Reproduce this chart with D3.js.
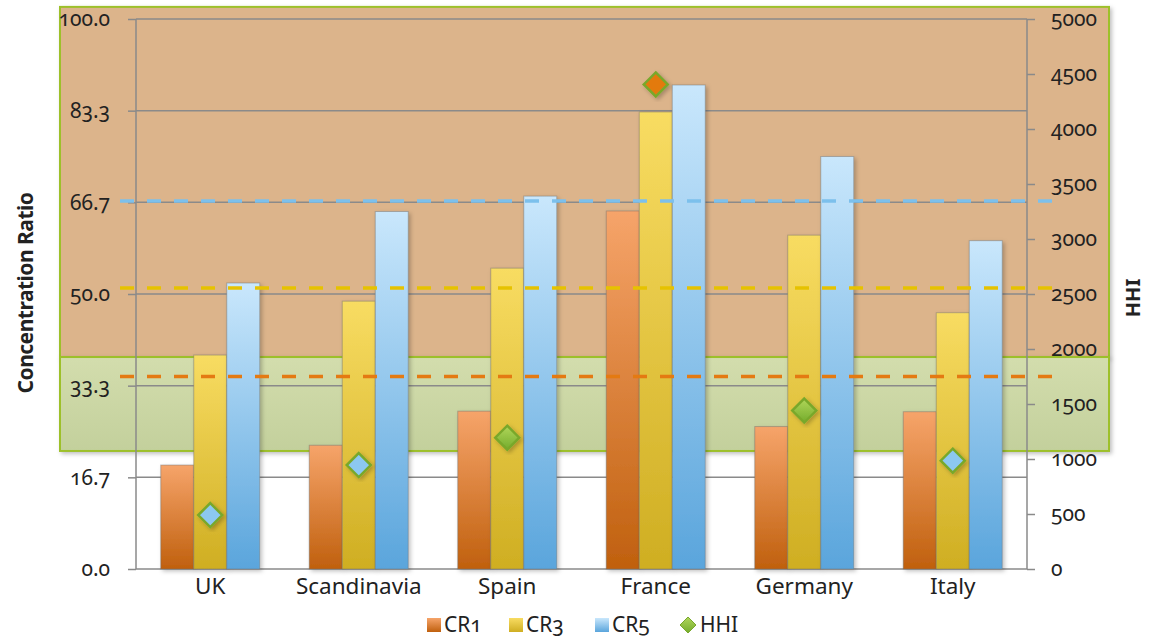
<!DOCTYPE html>
<html lang="en">
<head>
<meta charset="UTF-8">
<title>Concentration Ratio and HHI</title>
<style>
    body { margin: 0; background: #fff; }
    svg { display: block; }
    text {
        font-family: "Noto Sans", "Open Sans", sans-serif;
        font-variant-numeric: oldstyle-nums;
        fill: #222;
    }
</style>
</head>
<body>
<svg id="chart" width="1155" height="640"></svg>
<script src="https://d3js.org/d3.v7.min.js"></script>
<script>
    // data
    const categories = ['UK', 'Scandinavia', 'Spain', 'France', 'Germany', 'Italy'];
    const seriesNames = ['CR1', 'CR3', 'CR5'];
    const cr1 = [18.9, 22.5, 28.7, 65.1, 25.9, 28.6];
    const cr3 = [38.9, 48.7, 54.7, 83.1, 60.7, 46.6];
    const cr5 = [52.0, 65.0, 67.8, 88.0, 75.0, 59.7];
    const hhi = [490, 945, 1194, 4405, 1440, 985];

    const leftTicks = [0, 100 / 6, 200 / 6, 300 / 6, 400 / 6, 500 / 6, 100];
    const rightTicks = [0, 500, 1000, 1500, 2000, 2500, 3000, 3500, 4000, 4500, 5000];

    // reference lines on the concentration-ratio axis
    const refNames = ['CR5', 'CR3', 'CR1'];
    const refValues = [66.9, 51.1, 35.0];

    // shaded HHI zones
    const zoneNames = ['high', 'moderate'];
    const zoneLow = [1927, 1073];
    const zoneHigh = [5110, 1927];

    // HHI marker fill depends on level
    const hhiThresholds = [1000, 1800];

    const colors = {
        CR1: ['#f6a46a', '#c0600e'],
        CR3: ['#f8dc62', '#cfae22'],
        CR5: ['#c9e7fc', '#5aa5dc'],
        refCR1: '#e47a12', refCR3: '#e6c200', refCR5: '#7cc0ec',
        grid: '#8a8a8a'
    };
    const markerFill = ['#8cc8f0', 'url(#g-hhi)', '#e37a0e'];

    const svg = d3.select('#chart');
    const L = 136, R = 1027, T = 19, B = 569;

    const x = d3.scaleBand().domain(categories).range([L, R])
        .paddingInner(1 / 3).paddingOuter(1 / 6);
    const xs = d3.scaleBand().domain(seriesNames).range([0, x.bandwidth()]);
    const yL = d3.scaleLinear().domain([0, 100]).range([B, T]);
    const yR = d3.scaleLinear().domain([0, 5000]).range([B, T]);

    const defs = svg.append('defs');
    function vgrad(id, c0, c1) {
        const g = defs.append('linearGradient').attr('id', id)
            .attr('x1', 0).attr('y1', 0).attr('x2', 0).attr('y2', 1);
        g.append('stop').attr('offset', '0%').attr('stop-color', c0);
        g.append('stop').attr('offset', '100%').attr('stop-color', c1);
    }
    seriesNames.forEach(s => vgrad('g-' + s, colors[s][0], colors[s][1]));
    vgrad('g-hhi', '#b0d65a', '#74ac2c');
    vgrad('g-zone', '#d3ddad', '#c3d09c');

    const shadow = defs.append('filter').attr('id', 'shadow')
        .attr('x', '-20%').attr('y', '-20%').attr('width', '140%').attr('height', '140%');
    shadow.append('feDropShadow').attr('dx', 2).attr('dy', 2)
        .attr('stdDeviation', 2).attr('flood-color', '#000').attr('flood-opacity', 0.25);

    // zones
    const zoneX0 = 60, zoneX1 = 1109;
    svg.append('g').selectAll('rect')
        .data(zoneNames)
        .join('rect')
        .attr('x', zoneX0)
        .attr('width', zoneX1 - zoneX0)
        .attr('y', (d, i) => yR(zoneHigh[i]))
        .attr('height', (d, i) => yR(zoneLow[i]) - yR(zoneHigh[i]))
        .attr('fill', d => d === 'high' ? '#dcb48b' : 'url(#g-zone)')
        .attr('stroke', '#9dc02c')
        .attr('stroke-width', 2)
        .attr('filter', 'url(#shadow)');

    // gridlines
    svg.append('g').selectAll('line')
        .data(leftTicks)
        .join('line')
        .attr('x1', L).attr('x2', R)
        .attr('y1', d => yL(d)).attr('y2', d => yL(d))
        .attr('stroke', colors.grid).attr('stroke-width', 1.5);

    // left axis
    const axL = svg.append('g').attr('transform', `translate(${L},0)`)
        .call(d3.axisLeft(yL).tickValues(leftTicks).tickFormat(d3.format('.1f'))
            .tickSize(8).tickPadding(18));
    // right axis
    const axR = svg.append('g').attr('transform', `translate(${R},0)`)
        .call(d3.axisRight(yR).tickValues(rightTicks).tickFormat(d3.format('d'))
            .tickSize(8).tickPadding(16));
    [axL, axR].forEach(ax => {
        ax.select('.domain').attr('stroke', colors.grid).attr('stroke-width', 1.5)
            .attr('d', `M0,${T}V${B}`);
        ax.selectAll('.tick line').attr('stroke', colors.grid).attr('stroke-width', 1.5);
        ax.selectAll('.tick text').attr('font-size', 21).attr('fill', '#222');
    });

    // bars
    const seriesValues = { CR1: cr1, CR3: cr3, CR5: cr5 };
    const groups = svg.append('g').selectAll('g')
        .data(categories)
        .join('g')
        .attr('transform', d => `translate(${x(d)},0)`);
    groups.selectAll('rect')
        .data((c, i) => seriesNames.map(s => ({ s, v: seriesValues[s][i] })))
        .join('rect')
        .attr('x', d => xs(d.s))
        .attr('width', xs.bandwidth())
        .attr('y', d => yL(d.v))
        .attr('height', d => yL(0) - yL(d.v))
        .attr('fill', d => `url(#g-${d.s})`)
        .attr('stroke', 'rgba(110,110,110,0.45)')
        .attr('stroke-width', 1)
        .attr('filter', 'url(#shadow)');

    // dashed reference lines
    svg.append('g').selectAll('line')
        .data(refNames)
        .join('line')
        .attr('x1', 120).attr('x2', 1062)
        .attr('y1', (d, i) => yL(refValues[i])).attr('y2', (d, i) => yL(refValues[i]))
        .attr('stroke', d => colors['ref' + d])
        .attr('stroke-width', 3.5)
        .attr('stroke-dasharray', '14 13');

    // HHI markers
    const level = v => hhiThresholds.filter(t => v >= t).length;
    const dm = 12;
    svg.append('g').selectAll('path')
        .data(categories)
        .join('path')
        .attr('transform', (d, i) => `translate(${x(d) + x.bandwidth() / 2},${yR(hhi[i])})`)
        .attr('d', `M0,${-dm}L${dm},0L0,${dm}L${-dm},0Z`)
        .attr('fill', (d, i) => markerFill[level(hhi[i])])
        .attr('stroke', '#79a82c')
        .attr('stroke-width', 2.5)
        .attr('filter', 'url(#shadow)');

    // category labels
    svg.append('g').selectAll('text')
        .data(categories)
        .join('text')
        .attr('x', d => x(d) + x.bandwidth() / 2)
        .attr('y', 594)
        .attr('text-anchor', 'middle')
        .attr('font-size', 22.5)
        .text(d => d);

    // axis titles
    svg.append('text')
        .attr('transform', 'translate(33,293) rotate(-90)')
        .attr('text-anchor', 'middle')
        .attr('font-size', 21).attr('font-weight', 'bold')
        .attr('letter-spacing', -0.5)
        .text('Concentration Ratio');
    svg.append('text')
        .attr('transform', 'translate(1140,298) rotate(-90)')
        .attr('text-anchor', 'middle')
        .attr('font-size', 20).attr('font-weight', 'bold')
        .text('HHI');

    // legend
    const legendItems = ['CR1', 'CR3', 'CR5', 'HHI'];
    const legendX = [427, 509, 595, 680];
    const lg = svg.append('g').selectAll('g')
        .data(legendItems)
        .join('g')
        .attr('transform', (d, i) => `translate(${legendX[i]},625)`);
    lg.filter(d => d !== 'HHI').append('rect')
        .attr('x', 0).attr('y', -7).attr('width', 14).attr('height', 14)
        .attr('fill', d => `url(#g-${d})`);
    lg.filter(d => d === 'HHI').append('path')
        .attr('d', 'M8,-8L16,0L8,8L0,0Z')
        .attr('fill', 'url(#g-hhi)').attr('stroke', '#79a82c').attr('stroke-width', 1);
    lg.append('text')
        .attr('x', d => d === 'HHI' ? 20 : 17)
        .attr('y', 7)
        .attr('font-size', 21)
        .attr('fill', '#1a2a5a')
        .text(d => d);
</script>
</body>
</html>
